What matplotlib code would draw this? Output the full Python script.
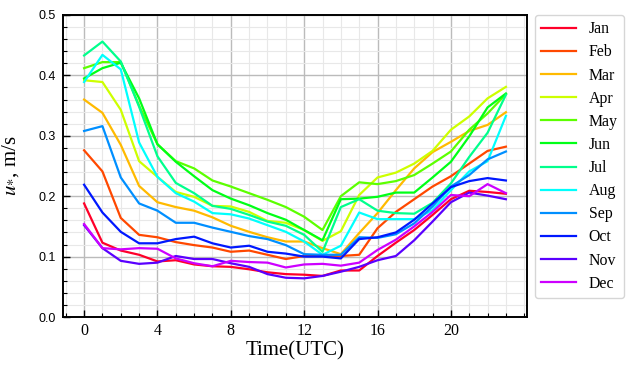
import numpy as np
import matplotlib
matplotlib.use("Agg")
import matplotlib.pyplot as plt
from matplotlib.ticker import MultipleLocator, FixedLocator

plt.rcParams['font.family'] = ['Liberation Serif', 'DejaVu Serif']
plt.rcParams['mathtext.fontset'] = 'stix'

hours = list(range(24))
months = ["Jan", "Feb", "Mar", "Apr", "May", "Jun", "Jul", "Aug", "Sep", "Oct", "Nov", "Dec"]
xticks = [0, 4, 8, 12, 16, 20]

jan = [0.188, 0.123, 0.110, 0.103, 0.092, 0.094, 0.087, 0.084, 0.083, 0.079, 0.074, 0.071,
       0.070, 0.068, 0.077, 0.077, 0.101, 0.123, 0.144, 0.169, 0.195, 0.209, 0.207, 0.204]
feb = [0.276, 0.241, 0.164, 0.136, 0.132, 0.124, 0.119, 0.115, 0.108, 0.110, 0.103, 0.096,
       0.101, 0.101, 0.101, 0.103, 0.147, 0.174, 0.195, 0.216, 0.233, 0.254, 0.275, 0.282]
mar = [0.360, 0.338, 0.285, 0.217, 0.190, 0.182, 0.176, 0.165, 0.151, 0.141, 0.132, 0.125,
       0.125, 0.114, 0.104, 0.139, 0.172, 0.210, 0.246, 0.273, 0.290, 0.308, 0.318, 0.339]
apr = [0.392, 0.389, 0.343, 0.258, 0.232, 0.207, 0.199, 0.184, 0.183, 0.174, 0.159, 0.156,
       0.144, 0.126, 0.142, 0.202, 0.231, 0.239, 0.254, 0.275, 0.310, 0.332, 0.362, 0.381]
may = [0.412, 0.422, 0.422, 0.350, 0.286, 0.258, 0.246, 0.226, 0.216, 0.205, 0.194, 0.182,
       0.166, 0.144, 0.200, 0.223, 0.220, 0.225, 0.235, 0.254, 0.274, 0.310, 0.337, 0.369]
jun = [0.395, 0.412, 0.421, 0.362, 0.286, 0.257, 0.233, 0.210, 0.196, 0.185, 0.172, 0.161,
       0.144, 0.127, 0.195, 0.196, 0.199, 0.206, 0.206, 0.231, 0.257, 0.299, 0.347, 0.370]
jul = [0.433, 0.456, 0.423, 0.348, 0.266, 0.222, 0.205, 0.184, 0.179, 0.169, 0.158, 0.151,
       0.136, 0.108, 0.182, 0.195, 0.176, 0.172, 0.171, 0.189, 0.221, 0.265, 0.305, 0.368]
aug = [0.389, 0.434, 0.410, 0.289, 0.232, 0.205, 0.191, 0.172, 0.170, 0.163, 0.152, 0.141,
       0.125, 0.103, 0.118, 0.173, 0.162, 0.162, 0.162, 0.177, 0.210, 0.241, 0.258, 0.333]
sep = [0.308, 0.316, 0.231, 0.188, 0.176, 0.156, 0.156, 0.148, 0.141, 0.134, 0.129, 0.119,
       0.104, 0.103, 0.103, 0.132, 0.131, 0.137, 0.155, 0.183, 0.216, 0.235, 0.261, 0.274]
oct_ = [0.219, 0.173, 0.141, 0.122, 0.122, 0.129, 0.133, 0.122, 0.115, 0.118, 0.108, 0.105,
        0.100, 0.100, 0.097, 0.129, 0.132, 0.140, 0.161, 0.188, 0.215, 0.225, 0.230, 0.226]
nov = [0.152, 0.114, 0.093, 0.088, 0.090, 0.101, 0.096, 0.096, 0.089, 0.083, 0.071, 0.065,
       0.064, 0.068, 0.075, 0.083, 0.094, 0.101, 0.127, 0.158, 0.190, 0.206, 0.201, 0.195]
dec = [0.154, 0.114, 0.112, 0.114, 0.113, 0.097, 0.089, 0.084, 0.093, 0.091, 0.090, 0.082,
       0.087, 0.088, 0.085, 0.090, 0.111, 0.128, 0.150, 0.174, 0.202, 0.200, 0.220, 0.205]

series = [jan, feb, mar, apr, may, jun, jul, aug, sep, oct_, nov, dec]

fig = plt.figure(figsize=(6.36, 3.74), dpi=100)
ax = fig.add_axes([63/636, 1-317/374, (527-63)/636, (317-15)/374])

cmap = plt.get_cmap('gist_rainbow')
for i, (name, vals) in enumerate(zip(months, series)):
    ax.plot(hours, vals, color=cmap(i/12), lw=1.6, label=name)

ax.set_xlim(-1.15, 24.15)
ax.set_ylim(0, 0.5)
ax.xaxis.set_major_locator(FixedLocator(xticks))
ax.xaxis.set_minor_locator(MultipleLocator(1))
ax.yaxis.set_major_locator(MultipleLocator(0.1))
ax.yaxis.set_minor_locator(MultipleLocator(0.02))
ax.grid(which='major', color='#bbbbbb', lw=1.0)
ax.grid(which='minor', color='#e8e8e8', lw=0.8)
ax.set_axisbelow(True)
ax.tick_params(which='both', direction='in')
ax.tick_params(axis='x', labelsize=11.5, pad=4)
ax.tick_params(axis='y', labelsize=9, pad=5)
for lab in ax.get_yticklabels():
    lab.set_fontfamily(['Liberation Sans', 'DejaVu Sans'])
ax.tick_params(which='major', length=5, width=1)
ax.tick_params(which='minor', length=3, width=0.8)
for s in ax.spines.values():
    s.set_linewidth(1.4)

ax.set_xlabel('Time(UTC)', fontsize=15, labelpad=2)
ax.set_ylabel('$u_{*}$, m/s', fontsize=15)
ax.yaxis.set_label_coords(-0.09, 0.5)

ax.legend(loc='upper left', bbox_to_anchor=(1.017, 1.0), borderaxespad=0,
          fontsize=11.4, frameon=True, fancybox=True, edgecolor='#cccccc',
          handlelength=2.2, labelspacing=0.45)

fig.savefig('out.png', dpi=100)
